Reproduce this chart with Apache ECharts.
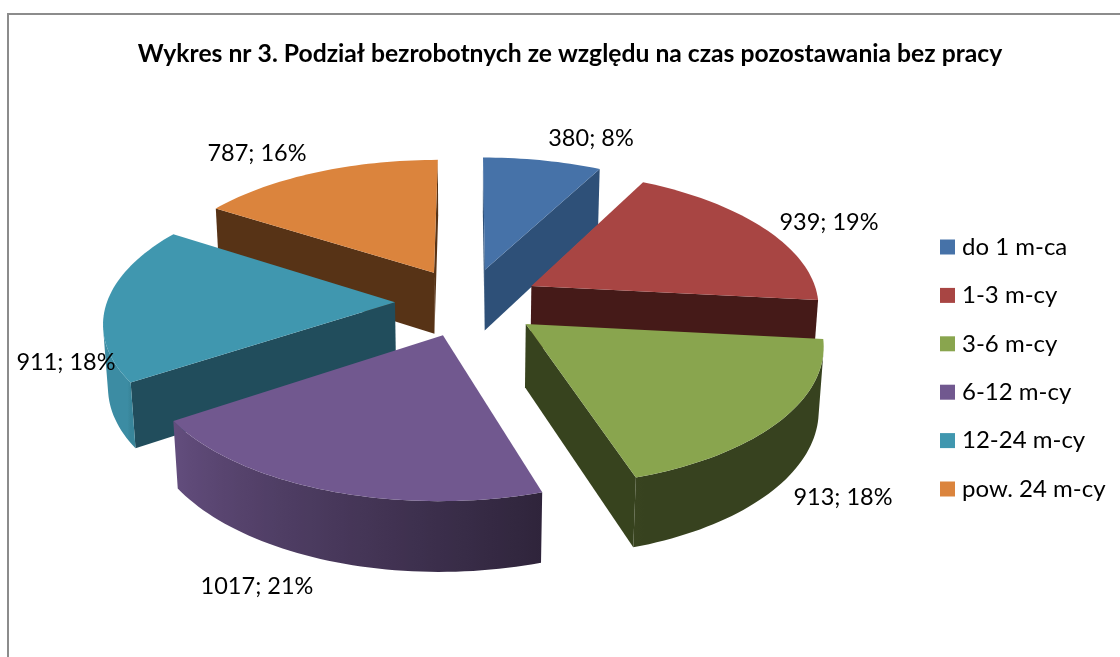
<!DOCTYPE html>
<html><head><meta charset="utf-8">
<style>html,body{margin:0;padding:0;background:#fff}#c{width:1120px;height:657px}</style>
<script src="https://cdn.jsdelivr.net/npm/echarts@6/dist/echarts.min.js"></script>
</head><body><div id="c"></div>
<script>
const titleText = 'Wykres nr 3. Podział bezrobotnych ze względu na czas pozostawania bez pracy';
const categories = ['do 1 m-ca', '1-3 m-cy', '3-6 m-cy', '6-12 m-cy', '12-24 m-cy', 'pow. 24 m-cy'];
const values = [380, 939, 913, 1017, 911, 787];
const topColors = ['#4672a8', '#a84543', '#89a54e', '#71588f', '#4097af', '#db843d'];
const sideColors = ['#2e5078', '#451a18', '#37431e', '#2f2442', '#214d5c', '#573316'];
const labelCenters = [[591, 138], [829, 222], [843, 497], [257, 586], [66, 362], [257, 153]];
const drawOrder = [0, 5, 1, 4, 2, 3];

// projection of the tilted, exploded pie
const CX = 468, CY = 302, R = 288, EXPLODE = 73, D = 2211, TILT = 0.468, H = 63, HDEPTH = 30;
const total = values.reduce((a, b) => a + b, 0);
const rad = d => d * Math.PI / 180;
function project(X, Y, h) {
  const s = D / (D + Y + h * HDEPTH);
  return [CX + X * s, CY - (Y * TILT - h * H) * s];
}
function area(p) {
  let a = 0;
  for (let i = 0; i < p.length; i++) {
    const q = p[(i + 1) % p.length];
    a += p[i][0] * q[1] - q[0] * p[i][1];
  }
  return a;
}
function mix(hex, f) {
  const n = parseInt(hex.slice(1), 16);
  return 'rgb(' + [(n >> 16) & 255, (n >> 8) & 255, n & 255].map(c => Math.round(c * f)).join(',') + ')';
}
function wallLight(deg) {
  if (deg <= 162) return 0.4;
  if (deg <= 236.5) return 0.41 + (deg - 162) / 74.5 * 0.47;
  return 0.93;
}
function poly(points, fill, z2) {
  return { type: 'polygon', z2, shape: { points }, style: { fill, stroke: null }, silent: true };
}
function sliceItem(i, value) {
  const before = values.slice(0, i).reduce((a, b) => a + b, 0);
  const a0 = before / total * 360, a1 = (before + value) / total * 360, mid = (a0 + a1) / 2;
  const ox = EXPLODE * Math.sin(rad(mid)), oy = EXPLODE * Math.cos(rad(mid));
  const at = (deg, h) => project(ox + R * Math.sin(rad(deg)), oy + R * Math.cos(rad(deg)), h);
  const apex = h => project(ox, oy, h);
  const steps = Math.ceil((a1 - a0) / 1.5);
  const angles = [];
  for (let k = 0; k <= steps; k++) angles.push(a0 + (a1 - a0) * k / steps);
  const kids = [];
  const z = 10 + drawOrder.indexOf(i) * 10;
  // radial side walls
  const startWall = [apex(0), at(a0, 0), at(a0, 1), apex(1)];
  if (area(startWall) < 0) kids.push(poly(startWall, sideColors[i], z));
  const endWall = [apex(0), at(a1, 0), at(a1, 1), apex(1)];
  if (area(endWall) > 0) kids.push(poly(endWall, sideColors[i], z));
  // curved outer wall: one outline filled with a gradient that follows the angle
  const seen = [];
  for (let k = 0; k < steps; k++) {
    const q = [at(angles[k], 0), at(angles[k + 1], 0), at(angles[k + 1], 1), at(angles[k], 1)];
    if (area(q) < 0) {
      if (!seen.length) seen.push(angles[k]);
      seen.push(angles[k + 1]);
    }
  }
  if (seen.length > 1) {
    const outline = seen.map(a => at(a, 0)).concat(seen.slice().reverse().map(a => at(a, 1)));
    const xa = at(seen[0], 0)[0], xb = at(seen[seen.length - 1], 0)[0];
    const stops = seen.map(a => ({
      offset: Math.min(1, Math.max(0, (at(a, 0)[0] - xa) / (xb - xa))),
      color: mix(topColors[i], wallLight(a))
    }));
    const grad = new echarts.graphic.LinearGradient(xa, 0, xb, 0, stops, true);
    kids.push(poly(outline, grad, z + 1));
  }
  // top face
  kids.push(poly([apex(0)].concat(angles.map(a => at(a, 0))), topColors[i], z + 2));
  // data label
  kids.push({
    type: 'text', z2: 200, silent: true,
    x: labelCenters[i][0], y: labelCenters[i][1],
    style: {
      text: value + '; ' + Math.round(value / total * 100) + '%',
      font: '23.5px Lato', fill: '#000', align: 'center', verticalAlign: 'middle'
    }
  });
  return { type: 'group', children: kids };
}
const series = drawOrder.map(i => ({
  type: 'custom',
  name: categories[i],
  coordinateSystem: 'none',
  silent: true,
  itemStyle: { color: topColors[i] },
  data: [[values[i]]],
  renderItem: (params, api) => sliceItem(i, api.value(0))
}));
const chart = echarts.init(document.getElementById('c'), null, { renderer: 'canvas' });
chart.setOption({
  animation: false,
  backgroundColor: '#fff',
  title: {
    text: titleText, left: 565, top: 37, textAlign: 'center',
    textStyle: { fontFamily: 'Lato', fontSize: 24.7, fontWeight: 'bold', color: '#000' }
  },
  legend: {
    data: categories, orient: 'vertical', left: 940, top: 235, padding: 0,
    icon: 'rect', itemWidth: 15, itemHeight: 15, itemGap: 24.4, selectedMode: false,
    textStyle: { fontFamily: 'Lato', fontSize: 24, color: '#000', padding: [0, 0, 0, 2], lineHeight: 24 }
  },
  graphic: [{
    type: 'rect', silent: true, z: 0,
    shape: { x: 8, y: 14, width: 1300, height: 900 },
    style: { fill: 'none', stroke: '#8c8c8c', lineWidth: 2 }
  }],
  series
});
</script></body></html>
